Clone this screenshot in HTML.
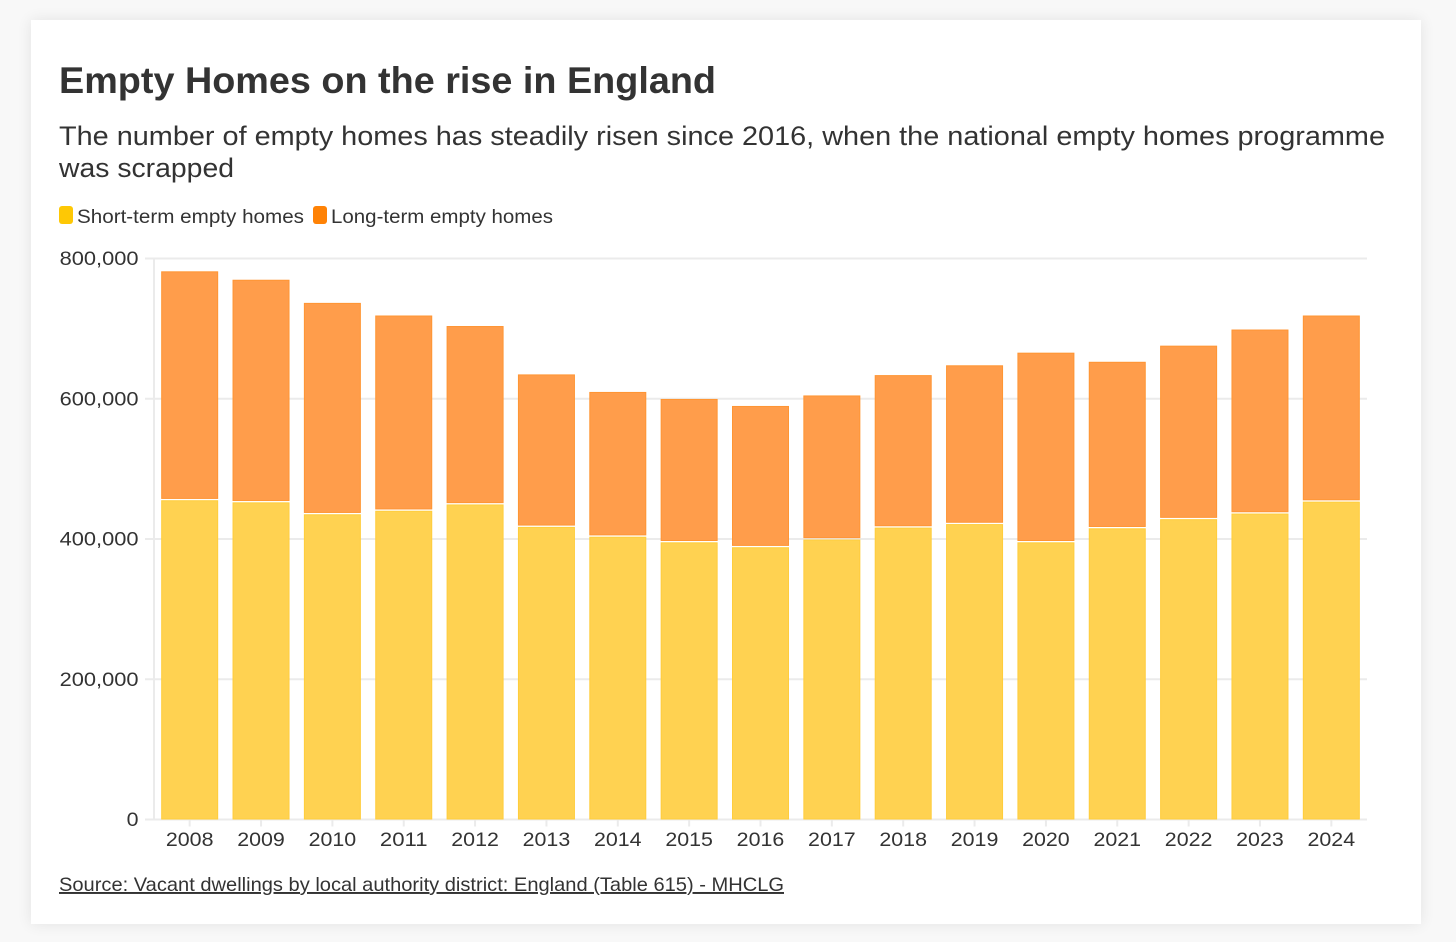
<!DOCTYPE html>
<html lang="en">
<head>
<meta charset="utf-8">
<title>Empty Homes on the rise in England</title>
<style>
html,body{margin:0;padding:0;width:1456px;height:942px;overflow:hidden;background:#f8f8f8;}
#card{position:absolute;left:31px;top:20px;width:1390px;height:904px;background:#fff;box-shadow:0 0 14px rgba(0,0,0,.09);}
svg{position:absolute;left:0;top:0;}
text{font-family:"Liberation Sans",sans-serif;}
</style>
</head>
<body>
<div id="card"></div>
<svg id="chart" width="1456" height="942" viewBox="0 0 1456 942">
  <text x="59" y="93" font-size="37" font-weight="700" fill="#333333" textLength="657" lengthAdjust="spacingAndGlyphs">Empty Homes on the rise in England</text>
  <text x="59" y="145" font-size="27" fill="#333333" textLength="1326" lengthAdjust="spacingAndGlyphs">The number of empty homes has steadily risen since 2016, when the national empty homes programme</text>
  <text x="59" y="177" font-size="27" fill="#333333" textLength="175" lengthAdjust="spacingAndGlyphs">was scrapped</text>

  <rect x="59" y="206" width="14" height="18" rx="3" fill="#fec805"></rect>
  <text x="77" y="223" font-size="19.5" fill="#333333" textLength="227" lengthAdjust="spacingAndGlyphs">Short-term empty homes</text>
  <rect x="313" y="206" width="14" height="18" rx="3" fill="#ff8205"></rect>
  <text x="331" y="223" font-size="19.5" fill="#333333" textLength="222" lengthAdjust="spacingAndGlyphs">Long-term empty homes</text>

  <g id="grid"></g>
  <g id="bars"></g>
  <g id="axis"></g>

  <text x="59" y="891" font-size="19.5" fill="#333333" textLength="725" lengthAdjust="spacingAndGlyphs" text-decoration="underline">Source: Vacant dwellings by local authority district: England (Table 615) - MHCLG</text>
</svg>
<script>
const years = ["2008","2009","2010","2011","2012","2013","2014","2015","2016","2017","2018","2019","2020","2021","2022","2023","2024"];
const shortTerm = [456000,453000,436000,441000,450000,418000,404000,396000,389000,400000,417000,422000,396000,416000,429000,437000,454000];
const longTerm = [325000,316000,300000,277000,253000,216000,205000,203000,200000,204000,216000,225000,269000,236000,246000,261000,264000];
const yTicks = [0,200000,400000,600000,800000];
const yTickLabels = ["0","200,000","400,000","600,000","800,000"];

const NS = "http://www.w3.org/2000/svg";
const plotLeft = 154, plotRight = 1367, plotBottom = 819.5, plotTop = 258.5, yMax = 800000;
const bandWidth = (plotRight - plotLeft) / years.length;
const barWidth = 56;

function yScale(v) { return plotBottom - (v / yMax) * (plotBottom - plotTop); }
function xCenter(i) { return plotLeft + bandWidth * (i + 0.5); }
function labelWidth(s) {
  let w = 0;
  for (const c of s) w += (c === "," ? 7.5 : 11.9);
  return w;
}
function make(tag, attrs) {
  const el = document.createElementNS(NS, tag);
  for (const k in attrs) el.setAttribute(k, attrs[k]);
  return el;
}

const grid = document.getElementById("grid");
const bars = document.getElementById("bars");
const axis = document.getElementById("axis");

yTicks.forEach(function (t, i) {
  const y = yScale(t);
  const line = make("line", {x1: 145, x2: plotRight, y1: y, y2: y, stroke: "#ebebeb", "stroke-width": 2});
  
  
  grid.appendChild(line);
  const w = labelWidth(yTickLabels[i]);
  const label = make("text", {x: 138.5 - w, y: y + 6.5, "font-size": 19.5, fill: "#333333", textLength: w, lengthAdjust: "spacingAndGlyphs"});
  
  
  label.textContent = yTickLabels[i];
  grid.appendChild(label);
});

const yAxisLine = make("line", {x1: plotLeft, x2: plotLeft, y1: plotTop, y2: plotBottom, stroke: "#ebebeb", "stroke-width": 2});


grid.appendChild(yAxisLine);

years.forEach(function (year, i) {
  const x = xCenter(i) - barWidth / 2;
  const shortTop = yScale(shortTerm[i]);
  const totalTop = yScale(shortTerm[i] + longTerm[i]);

  const s = make("rect", {x: x, y: shortTop + 1, width: barWidth, height: plotBottom - shortTop - 1.5, fill: "#ffd251", stroke: "#ffcd3c", "stroke-width": 1});
  
  
  bars.appendChild(s);

  const l = make("rect", {x: x, y: totalTop, width: barWidth, height: shortTop - totalTop - 1.3, fill: "#ff9d4b", stroke: "#ff9533", "stroke-width": 1});
  
  
  bars.appendChild(l);

  const tick = make("line", {x1: xCenter(i), x2: xCenter(i), y1: plotBottom, y2: plotBottom + 7, stroke: "#ebebeb", "stroke-width": 2});
  
  
  axis.appendChild(tick);

  const w = labelWidth(year);
  const label = make("text", {x: xCenter(i) - w / 2, y: 846, "font-size": 19.5, fill: "#333333", textLength: w, lengthAdjust: "spacingAndGlyphs"});
  
  
  label.textContent = year;
  axis.appendChild(label);
});
</script>
</body>
</html>
